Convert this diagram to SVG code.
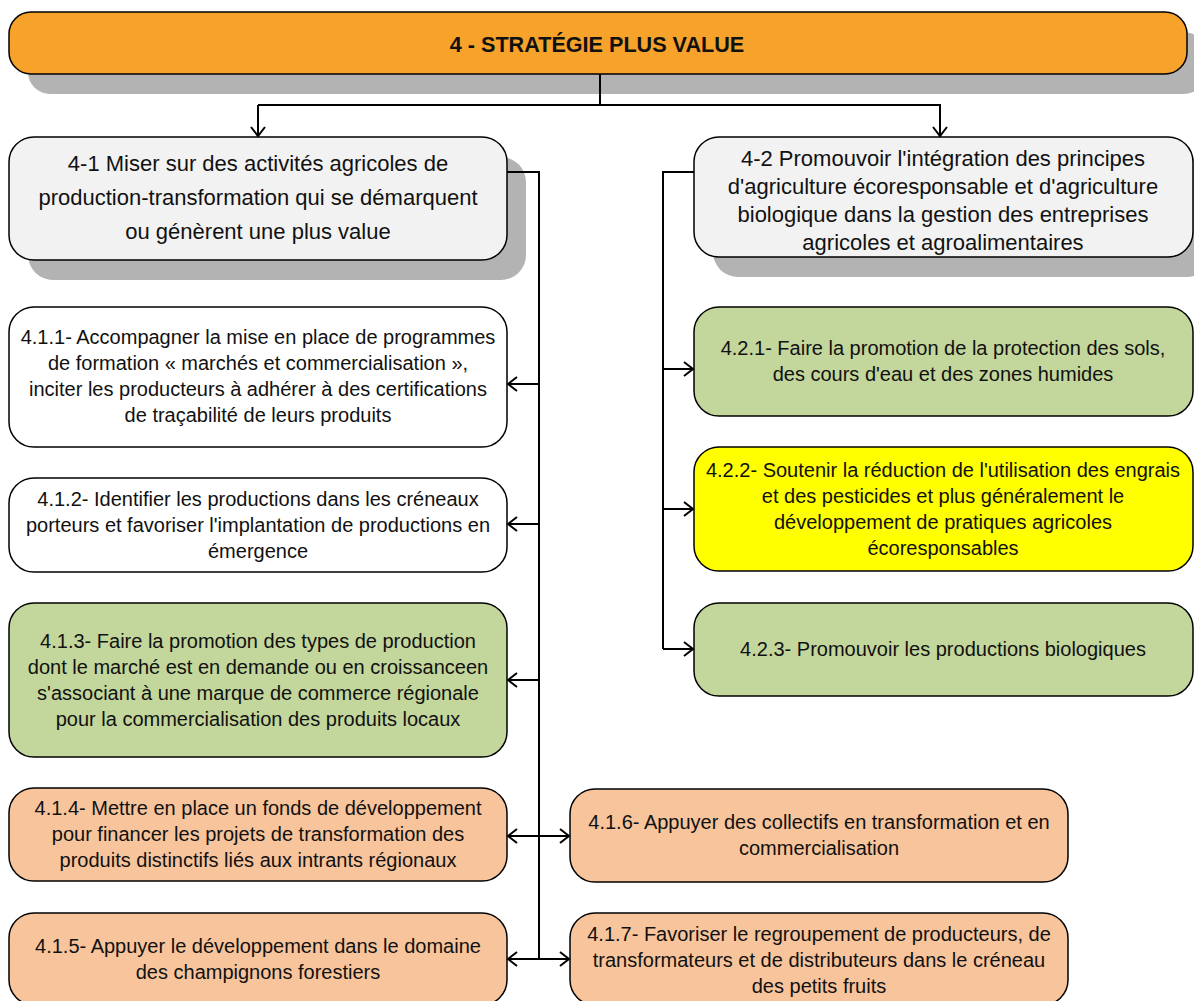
<svg xmlns="http://www.w3.org/2000/svg" width="1194" height="1001" viewBox="0 0 1194 1001">
<defs>
<marker id="arr" markerUnits="userSpaceOnUse" markerWidth="14" markerHeight="18" refX="10" refY="8" orient="auto" overflow="visible">
<path d="M1,1 L10,8 L1,15" fill="none" stroke="#000" stroke-width="2"/>
</marker>
<style>
.box{stroke:#000;stroke-width:1.5}
.sh{fill:#b3b3b3}
.t{font-family:"Liberation Sans",Arial,sans-serif;font-size:20px;fill:#111;text-anchor:middle}
.tb{font-size:22px}
.th{font-weight:bold;font-size:21.6px}
.c{fill:none;stroke:#000;stroke-width:2}
.white{fill:#ffffff}
.gray{fill:#f2f2f2}
.green{fill:#c3d69b}
.yellow{fill:#ffff00}
.peach{fill:#f8c49c}
.orange{fill:#f7a22b}
</style>
</defs>
<rect width="1194" height="1001" fill="#fff"/>

<g id="n4">
<rect class="sh" x="28" y="32" width="1178" height="62" rx="22"/>
<rect class="box orange" x="9" y="12" width="1178" height="62" rx="22"/>
<text class="t th" x="597" y="52">4 - STRATÉGIE PLUS VALUE</text>
</g>

<g id="n41">
<rect class="sh" x="28" y="157" width="498" height="123" rx="25"/>
<rect class="box gray" x="9" y="137" width="498" height="123" rx="25"/>
<text class="t tb"><tspan x="258" y="171">4-1 Miser sur des activités agricoles de</tspan><tspan x="258" y="205">production-transformation qui se démarquent</tspan><tspan x="258" y="239">ou génèrent une plus value</tspan></text>
</g>

<g id="n42">
<rect class="sh" x="713" y="157" width="499" height="120" rx="25"/>
<rect class="box gray" x="694" y="137" width="499" height="120" rx="25"/>
<text class="t tb"><tspan x="943" y="166">4-2 Promouvoir l'intégration des principes</tspan><tspan x="943" y="194">d'agriculture écoresponsable et d'agriculture</tspan><tspan x="943" y="222">biologique dans la gestion des entreprises</tspan><tspan x="943" y="250">agricoles et agroalimentaires</tspan></text>
</g>

<g id="n411">
<rect class="box white" x="9" y="307" width="498" height="140" rx="25"/>
<text class="t"><tspan x="258" y="344">4.1.1- Accompagner la mise en place de programmes</tspan><tspan x="258" y="370">de formation « marchés et commercialisation »,</tspan><tspan x="258" y="396">inciter les producteurs à adhérer à des certifications</tspan><tspan x="258" y="422">de traçabilité de leurs produits</tspan></text>
</g>

<g id="n412">
<rect class="box white" x="9" y="478" width="498" height="94" rx="25"/>
<text class="t"><tspan x="258" y="506">4.1.2- Identifier les productions dans les créneaux</tspan><tspan x="258" y="532">porteurs et favoriser l'implantation de productions en</tspan><tspan x="258" y="558">émergence</tspan></text>
</g>

<g id="n413">
<rect class="box green" x="9" y="603" width="498" height="154" rx="25"/>
<text class="t"><tspan x="258" y="648">4.1.3- Faire la promotion des types de production</tspan><tspan x="258" y="674">dont le marché est en demande ou en croissanceen</tspan><tspan x="258" y="700">s'associant à une marque de commerce régionale</tspan><tspan x="258" y="726">pour la commercialisation des produits locaux</tspan></text>
</g>

<g id="n414">
<rect class="box peach" x="9" y="788" width="498" height="93" rx="25"/>
<text class="t"><tspan x="258" y="815">4.1.4- Mettre en place un fonds de développement</tspan><tspan x="258" y="841">pour financer les projets de transformation des</tspan><tspan x="258" y="867">produits distinctifs liés aux intrants régionaux</tspan></text>
</g>

<g id="n415">
<rect class="box peach" x="9" y="913" width="498" height="92" rx="25"/>
<text class="t"><tspan x="258" y="953">4.1.5- Appuyer le développement dans le domaine</tspan><tspan x="258" y="979">des champignons forestiers</tspan></text>
</g>

<g id="n416">
<rect class="box peach" x="570" y="789" width="498" height="93" rx="25"/>
<text class="t"><tspan x="819" y="829">4.1.6- Appuyer des collectifs en transformation et en</tspan><tspan x="819" y="855">commercialisation</tspan></text>
</g>

<g id="n417">
<rect class="box peach" x="570" y="913" width="498" height="92" rx="25"/>
<text class="t"><tspan x="819" y="941">4.1.7- Favoriser le regroupement de producteurs, de</tspan><tspan x="819" y="967">transformateurs et de distributeurs dans le créneau</tspan><tspan x="819" y="993">des petits fruits</tspan></text>
</g>

<g id="n421">
<rect class="box green" x="694" y="307" width="499" height="109" rx="25"/>
<text class="t"><tspan x="943" y="355">4.2.1- Faire la promotion de la protection des sols,</tspan><tspan x="943" y="381">des cours d'eau et des zones humides</tspan></text>
</g>

<g id="n422">
<rect class="box yellow" x="694" y="447" width="499" height="124" rx="25"/>
<text class="t"><tspan x="943" y="477">4.2.2- Soutenir la réduction de l'utilisation des engrais</tspan><tspan x="943" y="503">et des pesticides et plus généralement le</tspan><tspan x="943" y="529">développement de pratiques agricoles</tspan><tspan x="943" y="555">écoresponsables</tspan></text>
</g>

<g id="n423">
<rect class="box green" x="694" y="603" width="499" height="93" rx="25"/>
<text class="t"><tspan x="943" y="656">4.2.3- Promouvoir les productions biologiques</tspan></text>
</g>

<g id="connectors">
<path class="c" d="M600,74 V105 H258"/>
<path class="c" d="M258,105 V136" marker-end="url(#arr)"/>
<path class="c" d="M600,105 H940 V136" marker-end="url(#arr)"/>
<path class="c" d="M507,172 H539 V959"/>
<path class="c" d="M539,384 H508" marker-end="url(#arr)"/>
<path class="c" d="M539,524 H508" marker-end="url(#arr)"/>
<path class="c" d="M539,680 H508" marker-end="url(#arr)"/>
<path class="c" d="M539,836 H508" marker-end="url(#arr)"/>
<path class="c" d="M539,959 H508" marker-end="url(#arr)"/>
<path class="c" d="M539,836 H569" marker-end="url(#arr)"/>
<path class="c" d="M539,959 H569" marker-end="url(#arr)"/>
<path class="c" d="M694,172 H663 V649"/>
<path class="c" d="M663,369 H693" marker-end="url(#arr)"/>
<path class="c" d="M663,509 H693" marker-end="url(#arr)"/>
<path class="c" d="M663,649 H693" marker-end="url(#arr)"/>
</g>
</svg>
